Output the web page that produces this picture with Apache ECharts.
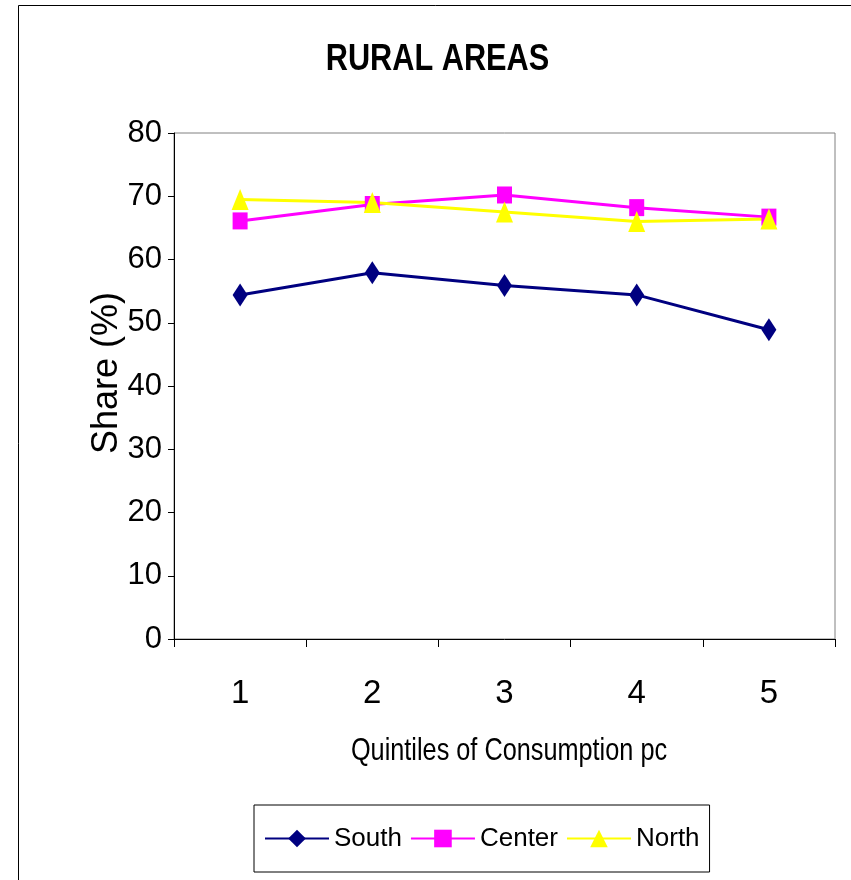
<!DOCTYPE html>
<html>
<head>
<meta charset="utf-8">
<script src="https://cdn.jsdelivr.net/npm/echarts@6/dist/echarts.min.js"></script>
<style>html,body{margin:0;padding:0;background:#fff}#c{width:851px;height:880px}</style>
</head>
<body>
<div id="c"></div>
<script>
const categories = ['1', '2', '3', '4', '5'];
const south = [54.4, 57.9, 55.9, 54.4, 48.9];
const center = [66.1, 68.7, 70.2, 68.2, 66.7];
const north = [69.5, 69.0, 67.5, 66.0, 66.4];
const yTicks = [0, 10, 20, 30, 40, 50, 60, 70, 80];
const titleText = 'RURAL AREAS';
const xName = 'Quintiles of Consumption pc';
const yName = 'Share (%)';

const FONT = '"Liberation Sans", Arial, sans-serif';
const chart = echarts.init(document.getElementById('c'));
chart.setOption({
  animation: false,
  backgroundColor: '#fff',
  graphic: [
    {type: 'rect', shape: {x: 18.5, y: 5.5, width: 900, height: 900},
     style: {fill: 'none', stroke: '#000', lineWidth: 1}, silent: true},
    {type: 'text', x: 437.5, y: 41, scaleX: 0.83,
     style: {text: titleText, x: 0, y: 0, align: 'center', verticalAlign: 'top',
             font: 'bold 37px ' + FONT, fill: '#000'}, silent: true},
    {type: 'text', x: 509, y: 735, scaleX: 0.79,
     style: {text: xName, x: 0, y: 0, align: 'center', verticalAlign: 'top',
             font: '32px ' + FONT, fill: '#000'}, silent: true}
  ],
  grid: {left: 174, top: 133, width: 661, height: 506, show: true, borderColor: '#808080', borderWidth: 1, containLabel: false},
  legend: {
    left: 254, top: 805,
    padding: [20, 10, 20, 10],
    borderColor: '#000', borderWidth: 1,
    itemWidth: 64, itemHeight: 22, itemGap: 8,
    textStyle: {fontFamily: FONT, fontSize: 26, lineHeight: 27, color: '#000'},
    data: ['South', 'Center', 'North']
  },
  xAxis: {
    type: 'category', data: categories, boundaryGap: true,
    axisLine: {lineStyle: {color: '#000', width: 1}},
    axisTick: {show: true, length: 8, lineStyle: {color: '#000'}},
    axisLabel: {margin: 38, fontFamily: FONT, fontSize: 33, color: '#000'},
    splitLine: {show: false}
  },
  yAxis: {
    type: 'value', min: 0, max: 80, interval: 10,
    name: yName, nameLocation: 'middle', nameGap: 49, nameRotate: 90, nameMoveOverlap: false,
    nameTextStyle: {fontFamily: FONT, fontSize: 36, color: '#000', padding: [0, 0, 0, 26]},
    axisLine: {show: true, lineStyle: {color: '#000', width: 1}},
    axisTick: {show: true, length: 6, lineStyle: {color: '#000'}},
    axisLabel: {margin: 12, fontFamily: FONT, fontSize: 31, color: '#000',
      formatter: v => yTicks.includes(v) ? String(v) : ''},
    splitLine: {show: false}
  },
  series: [
    {name: 'South', type: 'line', data: south, symbol: 'diamond', symbolSize: [15, 23],
     itemStyle: {color: '#000080'}, lineStyle: {color: '#000080', width: 3}},
    {name: 'Center', type: 'line', data: center, symbol: 'rect', symbolSize: [15, 17],
     itemStyle: {color: '#FF00FF'}, lineStyle: {color: '#FF00FF', width: 3}},
    {name: 'North', type: 'line', data: north, symbol: 'triangle', symbolSize: [17, 21],
     itemStyle: {color: '#FFFF00'}, lineStyle: {color: '#FFFF00', width: 3}}
  ]
});
</script>
</body>
</html>
